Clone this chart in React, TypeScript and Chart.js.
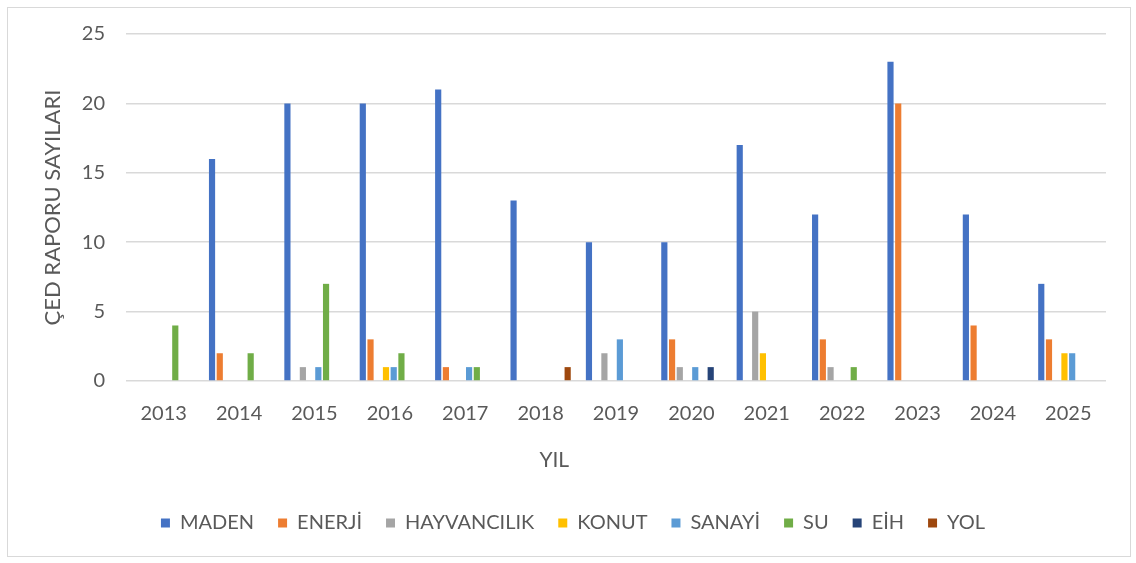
import React, { useEffect, useRef } from "react";
import { Chart, registerables } from "chart.js";

Chart.register(...registerables);

const years = ["2013", "2014", "2015", "2016", "2017", "2018", "2019", "2020", "2021", "2022", "2023", "2024", "2025"];
const maden = [0, 16, 20, 20, 21, 13, 10, 10, 17, 12, 23, 12, 7];
const enerji = [0, 2, 0, 3, 1, 0, 0, 3, 0, 3, 20, 4, 3];
const hayvancilik = [0, 0, 1, 0, 0, 0, 2, 1, 5, 1, 0, 0, 0];
const konut = [0, 0, 0, 1, 0, 0, 0, 0, 2, 0, 0, 0, 2];
const sanayi = [0, 0, 1, 1, 1, 0, 3, 1, 0, 0, 0, 0, 2];
const su = [4, 2, 7, 2, 1, 0, 0, 0, 0, 1, 0, 0, 0];
const eih = [0, 0, 0, 0, 0, 0, 0, 1, 0, 0, 0, 0, 0];
const yol = [0, 0, 0, 0, 0, 1, 0, 0, 0, 0, 0, 0, 0];
const yTicks = [0, 5, 10, 15, 20, 25];
const xTitle = "YIL";
const yTitle = "ÇED RAPORU SAYILARI";

const FONT = "Lato, 'Noto Sans', sans-serif";
const TEXT = "#595959";

const xTitlePlugin = {
  id: "xTitle",
  afterDraw(chart: any) {
    const { ctx, chartArea } = chart;
    ctx.save();
    ctx.font = `21px ${FONT}`;
    ctx.fillStyle = TEXT;
    ctx.textAlign = "center";
    ctx.textBaseline = "middle";
    ctx.fillText(xTitle, chartArea.left + chartArea.width * 0.437, chartArea.bottom + 79);
    ctx.restore();
  },
};

export default function App() {
  const ref = useRef<HTMLCanvasElement | null>(null);
  useEffect(() => {
    document.body.style.margin = "0";
    const nz = (a: number[]) => a.map((v) => (v === 0 ? null : v));
    const ds = (label: string, data: number[], color: string) => ({
      label,
      data: nz(data),
      backgroundColor: color,
      borderWidth: 0,
      categoryPercentage: 0.82,
      barPercentage: 0.8,
    });
    const chart = new Chart(ref.current!, {
      type: "bar",
      data: {
        labels: years,
        datasets: [
          ds("MADEN", maden, "#4472C4"),
          ds("ENERJİ", enerji, "#ED7D31"),
          ds("HAYVANCILIK", hayvancilik, "#A5A5A5"),
          ds("KONUT", konut, "#FFC000"),
          ds("SANAYİ", sanayi, "#5B9BD5"),
          ds("SU", su, "#70AD47"),
          ds("EİH", eih, "#264478"),
          ds("YOL", yol, "#9E480E"),
        ],
      },
      plugins: [xTitlePlugin],
      options: {
        responsive: false,
        animation: false,
        layout: { padding: { left: 40, right: 30, top: 34, bottom: 20 } },
        plugins: {
          tooltip: { enabled: false },
          legend: {
            position: "bottom",
            labels: {
              boxWidth: 9,
              boxHeight: 9,
              padding: 24,
              color: TEXT,
              font: { family: FONT, size: 20 },
            },
          },
        },
        scales: {
          x: {
            grid: { display: false, drawTicks: false },
            border: { display: false },
            ticks: { color: TEXT, font: { family: FONT, size: 20 }, padding: 21, maxRotation: 0 },
            afterFit: (s: any) => {
              s.height = 108;
            },
          },
          y: {
            min: 0,
            max: 25,
            afterBuildTicks: (s: any) => {
              s.ticks = yTicks.map((v) => ({ value: v }));
            },
            grid: { color: "#d9d9d9", lineWidth: 1.5, drawTicks: false },
            border: { display: false },
            ticks: { color: TEXT, font: { family: FONT, size: 20 }, padding: 21 },
            title: {
              display: true,
              text: yTitle,
              color: TEXT,
              font: { family: FONT, size: 22 },
              padding: { top: 0, bottom: 0 },
            },
            afterFit: (s: any) => {
              s.width = 86;
            },
          },
        },
      } as any,
    });
    return () => chart.destroy();
  }, []);
  return (
    <div style={{ position: "relative", width: 1136, height: 563, background: "#fff" }}>
      <canvas ref={ref} width={1136} height={563} style={{ display: "block" }} />
      <div
        style={{
          position: "absolute",
          left: 7,
          top: 7,
          width: 1122,
          height: 548,
          border: "1px solid #d9d9d9",
          pointerEvents: "none",
        }}
      />
    </div>
  );
}
